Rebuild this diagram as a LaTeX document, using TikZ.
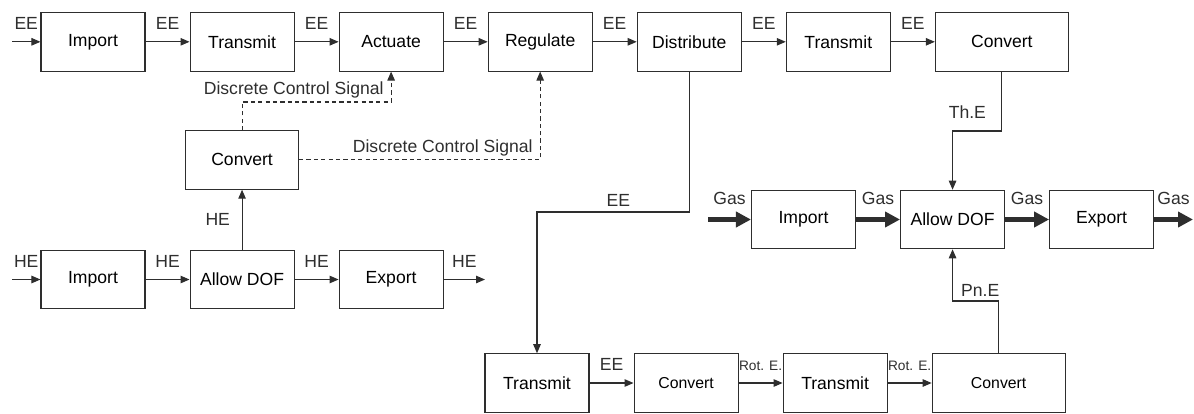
\documentclass[tikz,border=0pt]{standalone}
\usepackage{fontspec}
\setmainfont{Liberation Sans}
\usetikzlibrary{arrows.meta, positioning}
\definecolor{fnLine}{HTML}{2E2E2E}
\tikzset{
  fbox/.style={draw=fnLine, line width=0.6pt, minimum width=20.8mm, minimum height=11.7mm,
    font=\fontsize{10}{12}\selectfont, align=center, inner sep=1pt},
  smallbox/.style={fbox, font=\fontsize{9}{11}\selectfont},
  flow/.style={-{Triangle[length=1.8mm, width=1.5mm]}, line width=0.6pt, fnLine},
  gasflow/.style={-{Triangle[length=3mm, width=3mm]}, line width=3pt, fnLine},
  signal/.style={flow, dash pattern=on 2.4pt off 1.8pt},
  lbl/.style={font=\fontsize{10}{12}\selectfont, inner sep=0pt, text depth=0pt, anchor=south, yshift=#1},
  lbl/.default=6.8pt,
  rotlbl/.style={lbl, font=\fontsize{7.8}{9}\selectfont},
  vlbl/.style={font=\fontsize{10}{12}\selectfont, inner sep=0pt, anchor=east, xshift=-6.6pt},
  siglbl/.style={font=\fontsize{10}{12}\selectfont, inner sep=0pt, text depth=0pt,
    anchor=south east, shift={(-4pt,3.7pt)}}
}
\begin{document}
\begin{tikzpicture}[x=0.2mm, y=-0.2mm, node distance=8.8mm]
  \useasboundingbox (0,0) rectangle (1194,413);
  % electrical chain
  \node[fbox] (imp1) at (93,41.8) {Import};
  \node[fbox, right=of imp1] (tr1) {Transmit};
  \node[fbox, right=of tr1] (act) {Actuate};
  \node[fbox, right=of act] (reg) {Regulate};
  \node[fbox, right=of reg] (dist) {Distribute};
  \node[fbox, right=of dist] (tr2) {Transmit};
  \node[fbox, right=of tr2, minimum width=26.6mm] (cnv1) {Convert};
  % hydraulic chain
  \node[fbox] (impH) at (93,279.5) {Import};
  \node[fbox, right=of impH] (dofH) {Allow DOF};
  \node[fbox, right=of dofH] (expH) {Export};
  \node[fbox, above=12mm of dofH, minimum width=22.6mm] (cnvc) {Convert};
  % gas chain
  \node[fbox] (impG) at (803.5,219.5) {Import};
  \node[fbox, right=of impG] (dofG) {Allow DOF};
  \node[fbox, right=of dofG] (expG) {Export};
  % rotation chain
  \node[fbox] (trB1) at (537,383) {Transmit};
  \node[smallbox, right=of trB1] (cnvB1) {Convert};
  \node[fbox, right=of cnvB1] (trB2) {Transmit};
  \node[smallbox, right=of trB2, minimum width=26.6mm] (cnvB2) {Convert};

  \coordinate (inE) at (12,41.8);
  \coordinate (inH) at (12,279.5);
  \coordinate (outH) at (485,279.5);
  \coordinate (inG) at (708,219.5);
  \coordinate (outG) at (1193,219.5);

  \draw[flow] (inE) -- node[lbl] {EE} (imp1);
  \draw[flow] (imp1) -- node[lbl] {EE} (tr1);
  \draw[flow] (tr1) -- node[lbl] {EE} (act);
  \draw[flow] (act) -- node[lbl] {EE} (reg);
  \draw[flow] (reg) -- node[lbl] {EE} (dist);
  \draw[flow] (dist) -- node[lbl] {EE} (tr2);
  \draw[flow] (tr2) -- node[lbl] {EE} (cnv1);

  \draw[signal] (cnvc.north) |- node[siglbl, pos=1] {Discrete Control Signal} (act.south |- 0,102) -- (act.south);
  \draw[signal] (cnvc.east) -| node[siglbl, pos=0.5] {Discrete Control Signal} (reg.south);

  \draw[flow] (inH) -- node[lbl] {HE} (impH);
  \draw[flow] (impH) -- node[lbl] {HE} (dofH);
  \draw[flow] (dofH) -- node[lbl] {HE} (expH);
  \draw[flow] (expH) -- node[lbl] {HE} (outH);
  \draw[flow] (dofH) -- node[vlbl] {HE} (cnvc);

  \draw[flow] (dist.south) |- node[lbl=3pt, pos=0.733] {EE} (trB1.north |- 0,212) -- (trB1.north);
  \draw[flow] (trB1) -- node[lbl] {EE} (cnvB1);
  \draw[flow] (cnvB1) -- node[rotlbl] {Rot. E.} (trB2);
  \draw[flow] (trB2) -- node[rotlbl] {Rot. E.} (cnvB2);

  \draw[gasflow] (inG) -- node[lbl] {Gas} (impG);
  \draw[gasflow] (impG) -- node[lbl] {Gas} (dofG);
  \draw[gasflow] (dofG) -- node[lbl] {Gas} (expG);
  \draw[gasflow] (expG) -- node[lbl] {Gas} (outG);

  \draw[flow] (cnv1.south) |- node[lbl, pos=0.85] {Th.E} (dofG.north |- 0,131) -- (dofG.north);
  \draw[flow] (cnvB2.north) |- node[lbl=2pt, pos=0.7] {Pn.E} (dofG.south |- 0,301) -- (dofG.south);
\end{tikzpicture}
\end{document}
